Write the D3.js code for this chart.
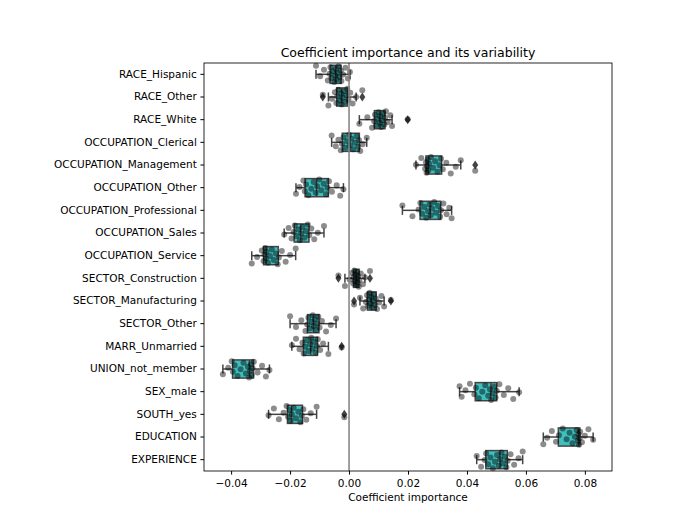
<!DOCTYPE html>
<html lang="en">
<head>
<meta charset="UTF-8">
<title>Coefficient importance and its variability</title>
<script src="https://cdn.jsdelivr.net/npm/d3@7"></script>
<style>
  body { margin: 0; background: #fff; }
  text { font-family: "DejaVu Sans", sans-serif; fill: #000; }
</style>
</head>
<body>
<div id="chart"></div>
<script>
// feature names, top to bottom
var features = ["RACE_Hispanic", "RACE_Other", "RACE_White", "OCCUPATION_Clerical",
  "OCCUPATION_Management", "OCCUPATION_Other", "OCCUPATION_Professional", "OCCUPATION_Sales",
  "OCCUPATION_Service", "SECTOR_Construction", "SECTOR_Manufacturing", "SECTOR_Other",
  "MARR_Unmarried", "UNION_not_member", "SEX_male", "SOUTH_yes", "EDUCATION", "EXPERIENCE"];

// box statistics
var whiskerLo = [-0.0112, -0.0070, 0.0035, -0.0059, 0.0227, -0.0180, 0.0181, -0.0220, -0.0330,
  -0.0014, 0.0037, -0.0200, -0.0194, -0.0428, 0.0375, -0.0273, 0.0659, 0.0433];
var q1 = [-0.0064, -0.0042, 0.0086, -0.0023, 0.0261, -0.0149, 0.0241, -0.0186, -0.0290,
  0.0015, 0.0062, -0.0141, -0.0155, -0.0395, 0.0428, -0.0209, 0.0710, 0.0464];
var median = [-0.0045, -0.0025, 0.0105, 0.0003, 0.0269, -0.0110, 0.0275, -0.0164, -0.0281,
  0.0024, 0.0076, -0.0121, -0.0130, -0.0338, 0.0481, -0.0195, 0.0778, 0.0512];
var q3 = [-0.0027, -0.0006, 0.0122, 0.0035, 0.0314, -0.0070, 0.0311, -0.0136, -0.0240,
  0.0034, 0.0092, -0.0102, -0.0107, -0.0324, 0.0501, -0.0158, 0.0783, 0.0537];
var whiskerHi = [0.0003, 0.0024, 0.0146, 0.0060, 0.0379, -0.0019, 0.0348, -0.0085, -0.0181,
  0.0054, 0.0119, -0.0044, -0.0070, -0.0270, 0.0577, -0.0110, 0.0828, 0.0589];
var outliers = [[], [-0.0089, 0.0045], [0.0199], [], [0.0428], [], [], [], [],
  [-0.0036, 0.0071], [0.0017, 0.0142], [], [-0.0025], [], [], [-0.0016], [], []];

// cross-validation coefficients (strip points)
var points = [
  [-0.0112, -0.0098, -0.0085, -0.0072, -0.0066, -0.0063, -0.0060, -0.0055, -0.0050, -0.0047, -0.0045, -0.0043, -0.0040, -0.0036, -0.0032, -0.0028, -0.0026, -0.0020, -0.0012, -0.0004, 0.0003],
  [-0.0089, -0.0070, -0.0058, -0.0048, -0.0043, -0.0040, -0.0036, -0.0031, -0.0027, -0.0025, -0.0022, -0.0018, -0.0013, -0.0009, -0.0006, -0.0002, 0.0004, 0.0012, 0.0024, 0.0045],
  [0.0035, 0.0062, 0.0078, 0.0085, 0.0088, 0.0092, 0.0096, 0.0100, 0.0104, 0.0106, 0.0109, 0.0112, 0.0116, 0.0120, 0.0122, 0.0125, 0.0131, 0.0140, 0.0146, 0.0199],
  [-0.0059, -0.0045, -0.0036, -0.0028, -0.0024, -0.0019, -0.0012, -0.0006, 0.0000, 0.0003, 0.0008, 0.0014, 0.0020, 0.0026, 0.0031, 0.0034, 0.0038, 0.0046, 0.0060],
  [0.0227, 0.0245, 0.0258, 0.0261, 0.0263, 0.0265, 0.0267, 0.0269, 0.0272, 0.0278, 0.0285, 0.0292, 0.0300, 0.0307, 0.0312, 0.0318, 0.0330, 0.0345, 0.0362, 0.0379, 0.0428],
  [-0.0180, -0.0168, -0.0155, -0.0150, -0.0146, -0.0138, -0.0128, -0.0120, -0.0113, -0.0108, -0.0101, -0.0094, -0.0086, -0.0078, -0.0073, -0.0068, -0.0058, -0.0042, -0.0030, -0.0019],
  [0.0181, 0.0215, 0.0236, 0.0242, 0.0248, 0.0255, 0.0262, 0.0268, 0.0273, 0.0277, 0.0282, 0.0289, 0.0295, 0.0302, 0.0309, 0.0312, 0.0320, 0.0331, 0.0340, 0.0348],
  [-0.0220, -0.0205, -0.0195, -0.0188, -0.0184, -0.0178, -0.0172, -0.0167, -0.0162, -0.0158, -0.0152, -0.0146, -0.0140, -0.0135, -0.0128, -0.0118, -0.0106, -0.0085],
  [-0.0330, -0.0312, -0.0296, -0.0290, -0.0287, -0.0284, -0.0282, -0.0280, -0.0275, -0.0268, -0.0262, -0.0255, -0.0248, -0.0242, -0.0238, -0.0228, -0.0215, -0.0200, -0.0181],
  [-0.0036, -0.0014, 0.0002, 0.0010, 0.0014, 0.0016, 0.0018, 0.0020, 0.0022, 0.0024, 0.0025, 0.0027, 0.0029, 0.0031, 0.0033, 0.0035, 0.0040, 0.0047, 0.0054, 0.0071],
  [0.0017, 0.0037, 0.0048, 0.0057, 0.0061, 0.0064, 0.0067, 0.0070, 0.0073, 0.0076, 0.0078, 0.0081, 0.0084, 0.0088, 0.0091, 0.0095, 0.0102, 0.0110, 0.0119, 0.0142],
  [-0.0200, -0.0180, -0.0162, -0.0148, -0.0142, -0.0138, -0.0133, -0.0127, -0.0123, -0.0120, -0.0116, -0.0112, -0.0108, -0.0104, -0.0100, -0.0092, -0.0078, -0.0062, -0.0044],
  [-0.0194, -0.0180, -0.0168, -0.0158, -0.0154, -0.0149, -0.0143, -0.0137, -0.0132, -0.0128, -0.0124, -0.0119, -0.0114, -0.0109, -0.0106, -0.0098, -0.0088, -0.0070, -0.0025],
  [-0.0428, -0.0410, -0.0398, -0.0394, -0.0388, -0.0378, -0.0368, -0.0358, -0.0350, -0.0343, -0.0339, -0.0336, -0.0333, -0.0330, -0.0327, -0.0323, -0.0310, -0.0295, -0.0282, -0.0270],
  [0.0375, 0.0382, 0.0395, 0.0410, 0.0425, 0.0430, 0.0440, 0.0452, 0.0462, 0.0472, 0.0478, 0.0482, 0.0487, 0.0492, 0.0497, 0.0501, 0.0510, 0.0525, 0.0540, 0.0557, 0.0577],
  [-0.0273, -0.0255, -0.0238, -0.0222, -0.0212, -0.0207, -0.0202, -0.0198, -0.0194, -0.0188, -0.0180, -0.0172, -0.0165, -0.0160, -0.0155, -0.0145, -0.0130, -0.0110, -0.0016],
  [0.0659, 0.0672, 0.0688, 0.0702, 0.0712, 0.0725, 0.0738, 0.0748, 0.0758, 0.0766, 0.0772, 0.0776, 0.0778, 0.0780, 0.0782, 0.0784, 0.0790, 0.0800, 0.0812, 0.0828],
  [0.0433, 0.0448, 0.0460, 0.0465, 0.0472, 0.0480, 0.0488, 0.0495, 0.0502, 0.0508, 0.0512, 0.0517, 0.0522, 0.0528, 0.0534, 0.0538, 0.0548, 0.0560, 0.0575, 0.0589]
];

var xTicks = [-0.04, -0.02, 0.00, 0.02, 0.04, 0.06, 0.08];

var width = 680, height = 529;
var margin = {top: 63, right: 68, bottom: 58, left: 204};

var svg = d3.select("#chart").append("svg")
  .attr("width", width)
  .attr("height", height);

var x = d3.scaleLinear()
  .domain([-0.0492, 0.0892])
  .range([margin.left, width - margin.right]);

var y = d3.scaleBand()
  .domain(features)
  .range([margin.top, height - margin.bottom])
  .padding(0);

var boxH = y.bandwidth() * 0.8;
var lineCol = "#444444";

// boxes
var g = svg.append("g");
features.forEach(function(f, i) {
  var cy = y(f) + y.bandwidth() / 2;
  // whiskers
  g.append("line").attr("x1", x(whiskerLo[i])).attr("x2", x(q1[i]))
    .attr("y1", cy).attr("y2", cy).attr("stroke", lineCol).attr("stroke-width", 1.5);
  g.append("line").attr("x1", x(q3[i])).attr("x2", x(whiskerHi[i]))
    .attr("y1", cy).attr("y2", cy).attr("stroke", lineCol).attr("stroke-width", 1.5);
  // caps
  [whiskerLo[i], whiskerHi[i]].forEach(function(v) {
    g.append("line").attr("x1", x(v)).attr("x2", x(v))
      .attr("y1", cy - boxH / 4).attr("y2", cy + boxH / 4)
      .attr("stroke", lineCol).attr("stroke-width", 1.5);
  });
  g.append("rect")
    .attr("x", x(q1[i]))
    .attr("y", cy - boxH / 2)
    .attr("width", x(q3[i]) - x(q1[i]))
    .attr("height", boxH)
    .attr("fill", "#40bfbf")
    .attr("stroke", lineCol)
    .attr("stroke-width", 1.5);
  g.append("line").attr("x1", x(median[i])).attr("x2", x(median[i]))
    .attr("y1", cy - boxH / 2).attr("y2", cy + boxH / 2)
    .attr("stroke", lineCol).attr("stroke-width", 1.5);
  // fliers
  g.selectAll(null).data(outliers[i]).enter().append("path")
    .attr("d", "M0,-4.5L3,0L0,4.5L-3,0Z")
    .attr("transform", function(d) { return "translate(" + x(d) + "," + cy + ")"; })
    .attr("fill", lineCol);
});

// strip points, jittered with a fixed pattern
var jit = y.bandwidth() * 0.38;
features.forEach(function(f, i) {
  var cy = y(f) + y.bandwidth() / 2;
  svg.append("g").selectAll("circle")
    .data(points[i])
    .enter().append("circle")
    .attr("cx", function(d) { return x(d); })
    .attr("cy", function(d, j) { return cy + (((j * 0.618034 + i * 0.37) % 1) - 0.5) * 2 * jit; })
    .attr("r", 3)
    .attr("fill", "#000")
    .attr("fill-opacity", 0.45);
});

// zero line
svg.append("line")
  .attr("x1", x(0)).attr("x2", x(0))
  .attr("y1", margin.top).attr("y2", height - margin.bottom)
  .attr("stroke", "#808080").attr("stroke-width", 1.5);

// axes
var xAxis = svg.append("g")
  .attr("transform", "translate(0," + (height - margin.bottom) + ")")
  .call(d3.axisBottom(x).tickValues(xTicks).tickFormat(d3.format(".2f")).tickSizeOuter(0).tickSize(3.6).tickPadding(4.5));
xAxis.select(".domain").remove();
xAxis.selectAll("text").style("font-size", "10.5px").style("font-family", "DejaVu Sans");

var yAxis = svg.append("g")
  .attr("transform", "translate(" + margin.left + ",0)")
  .call(d3.axisLeft(y).tickSizeOuter(0).tickSize(3.6).tickPadding(3.6));
yAxis.select(".domain").remove();
yAxis.selectAll("text").style("font-size", "10.5px").style("font-family", "DejaVu Sans");

// frame
svg.append("rect")
  .attr("x", margin.left).attr("y", margin.top)
  .attr("width", width - margin.left - margin.right)
  .attr("height", height - margin.top - margin.bottom)
  .attr("fill", "none").attr("stroke", "#000").attr("stroke-width", 0.85);

svg.append("text")
  .attr("x", (margin.left + width - margin.right) / 2)
  .attr("y", margin.top - 6)
  .attr("text-anchor", "middle")
  .style("font-size", "12.5px")
  .text("Coefficient importance and its variability");

svg.append("text")
  .attr("x", (margin.left + width - margin.right) / 2)
  .attr("y", height - 28)
  .attr("text-anchor", "middle")
  .style("font-size", "10.5px")
  .text("Coefficient importance");
</script>
</body>
</html>
